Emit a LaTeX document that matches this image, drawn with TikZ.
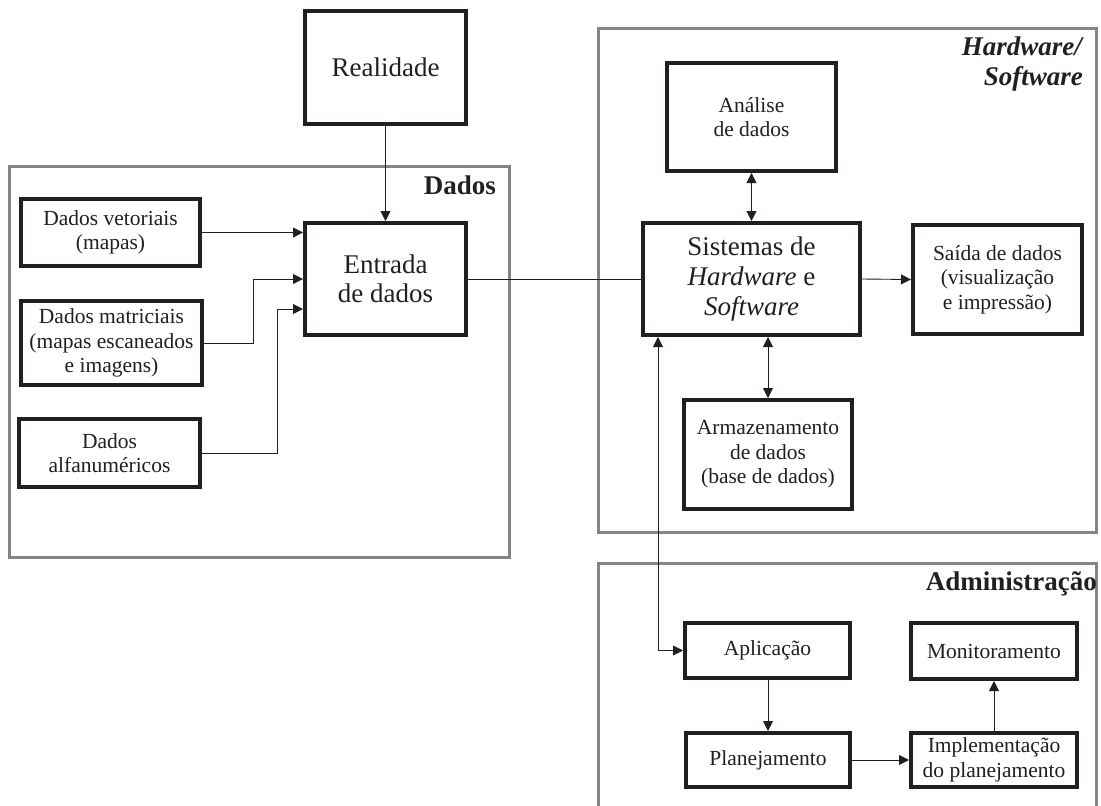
\documentclass[tikz,border=0pt]{standalone}
\usepackage{fontspec}
\setmainfont{Liberation Serif}
\usetikzlibrary{arrows.meta,calc}
\definecolor{ink}{HTML}{231F20}
\definecolor{panelgray}{HTML}{858585}
\begin{document}
\begin{tikzpicture}[x=1pt,y=-1pt,
  box/.style={draw=ink, line width=4pt, align=center, inner sep=0pt, outer sep=2pt, text=ink},
  panel/.style={draw=panelgray, line width=3pt},
  conn/.style={draw=ink, line width=0.9pt},
  arr/.style={conn, -{Triangle[length=10pt,width=10pt]}},
  darr/.style={conn, {Triangle[length=10pt,width=10pt]}-{Triangle[length=10pt,width=10pt]}},
  ptitle/.style={anchor=base east, inner sep=0pt, font=\fontsize{27}{30}\selectfont\bfseries, text=ink},
  bigtxt/.style={font=\fontsize{27}{29.5}\selectfont},
  midtxt/.style={font=\fontsize{21.5}{24.5}\selectfont},
]
\useasboundingbox (0,0) rectangle (1101,806);
\clip (0,0) rectangle (1101,806);
\fill[white] (0,0) rectangle (1101,806);

% panels
\draw[panel] (9.5,166.5) rectangle (509.5,557.5);
\draw[panel] (598.5,28.5) rectangle (1096.5,532.5);
\draw[panel] (598.5,563.5) rectangle (1096.5,840);

\node[ptitle] (tdados) at (496,194) {Dados};
\node[ptitle] (thw1) at (1082,55) {\itshape Hardware/};
\node[ptitle] (thw2) at (1083,85) {\itshape Software};
\node[ptitle] (tadm) at (1097,590) {Administração};

% boxes
\node[box, bigtxt, minimum width=161, minimum height=113] (real) at (385.5,67.5) {Realidade};
\node[box, bigtxt, minimum width=161, minimum height=112] (entr) at (385.5,279) {Entrada\\de dados};
\node[box, midtxt, minimum width=179, minimum height=67] (vet) at (110.5,232.5) {Dados vetoriais\\(mapas)};
\node[box, midtxt, minimum width=181, minimum height=84] (mat) at (111.5,343) {Dados matriciais\\(mapas escaneados\\e imagens)};
\node[box, midtxt, minimum width=181, minimum height=68] (alf) at (109.5,453) {Dados\\alfanuméricos};

\node[box, midtxt, minimum width=169, minimum height=108] (anal) at (751.5,117) {Análise\\de dados};
\node[box, font=\fontsize{27}{30}\selectfont, minimum width=217, minimum height=112] (sist) at (751.5,279) {Sistemas de\\\textit{Hardware} e\\\textit{Software}};
\node[box, midtxt, minimum width=169, minimum height=109] (said) at (997.5,279.5) {Saída de dados\\(visualização\\e impressão)};
\node[box, midtxt, minimum width=168, minimum height=109] (arm) at (768,454.5) {Armazenamento\\de dados\\(base de dados)};

\node[box, midtxt, minimum width=165, minimum height=55] (apl) at (767.5,650.5) {Aplicação};
\node[box, midtxt, minimum width=166, minimum height=56] (mon) at (994,651) {Monitoramento};
\node[box, midtxt, minimum width=164, minimum height=54] (plan) at (768,760) {Planejamento};
\node[box, midtxt, minimum width=166, minimum height=54] (impl) at (994,760) {Implementação\\do planejamento};

% connectors
\draw[arr] (real) -- (entr);
\draw[arr] (vet.east) -- (vet.east -| entr.west);
\draw[arr] (mat.east) -- ++(49,0) |- (entr.west);
\draw[arr] (alf.east) -- ++(75,0) |- ($(entr.west)+(0,30)$);
\draw[conn] (entr.east) -- (sist.west);
\draw[darr] (anal.south) -- (anal.south |- sist.north);
\draw[arr] (sist.east) -- (said.west);
\draw[darr] (arm.north |- sist.south) -- (arm.north);
\draw[darr] ($(sist.south west)+(17,0)$) |- (apl.west);
\draw[arr] (apl.south -| plan.north) -- (plan.north);
\draw[arr] (plan.east) -- (impl.west);
\draw[arr] (impl.north) -- (mon.south);
\end{tikzpicture}
\end{document}
